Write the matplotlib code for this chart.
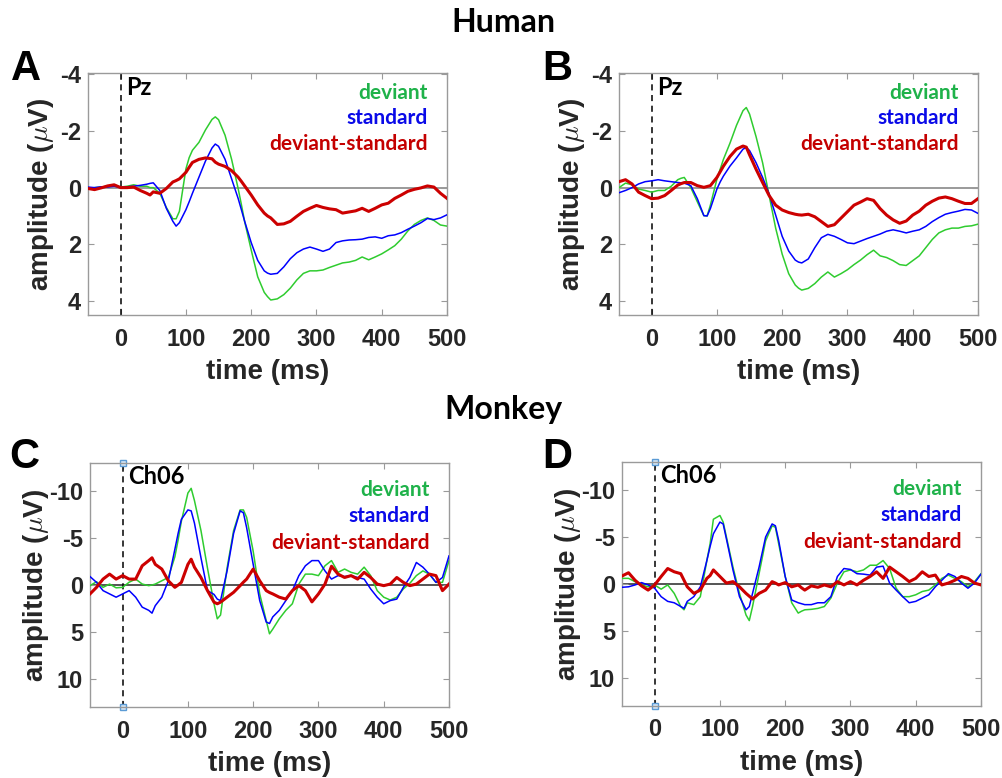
import matplotlib
matplotlib.use("Agg")
import matplotlib.pyplot as plt

plt.rcParams["mathtext.fontset"] = "cm"

# Sample times (ms) shared by every waveform
TIME = [-50, -40, -30, -20, -10, 0, 10, 20, 30, 40, 45, 50, 60, 70, 80, 85, 90,
        100, 105, 110, 120, 130, 140, 145, 150, 160, 170, 180, 185, 190, 200,
        210, 220, 225, 230, 240, 250, 260, 270, 280, 290, 300, 310, 320, 330,
        340, 350, 360, 370, 380, 390, 400, 410, 420, 430, 440, 450, 460, 470,
        480, 490, 500]

# Human, Pz (panel A)
human_a_deviant = [0.03, 0.0, -0.02, -0.05, -0.1, -0.02, -0.05, -0.1, -0.05, -0.05, 0.0, 0.0, 0.2, 0.7, 1.1, 1.1, 0.84,
                   -0.66, -1.06, -1.32, -1.6, -2.04, -2.41, -2.5, -2.4, -1.85, -1.0, 0.03, 0.6, 1.2, 2.2,
                   3.15, 3.7, 3.85, 3.97, 3.93, 3.78, 3.55, 3.26, 3.03, 2.94, 2.94, 2.91, 2.82, 2.74,
                   2.66, 2.63, 2.57, 2.45, 2.55, 2.45, 2.34, 2.2, 2.05, 1.82, 1.53, 1.3, 1.16, 1.07,
                   1.16, 1.32, 1.36]
human_a_standard = [-0.02, 0.0, -0.03, -0.02, -0.05, 0.0, -0.03, -0.05, -0.08, -0.12, -0.15, -0.17, 0.1, 0.73, 1.19, 1.36, 1.24,
                    0.78, 0.5, 0.2, -0.37, -0.94, -1.4, -1.54, -1.46, -1.0, -0.31, 0.38, 0.78, 1.19, 1.94,
                    2.57, 2.94, 3.02, 3.06, 3.03, 2.8, 2.51, 2.3, 2.17, 2.1, 2.17, 2.25, 2.17, 1.94,
                    1.88, 1.85, 1.84, 1.82, 1.76, 1.74, 1.79, 1.7, 1.67, 1.59, 1.47, 1.36, 1.24, 1.09,
                    1.13, 1.07, 0.96]
human_a_diff = [0.03, 0.07, 0.01, -0.06, -0.1, 0.0, 0.0, -0.02, 0.1, 0.2, 0.26, 0.15, 0.2, 0.03, -0.2, -0.25, -0.31,
                -0.54, -0.72, -0.89, -1.0, -1.05, -1.02, -0.9, -0.83, -0.75, -0.6, -0.37, -0.22, -0.06, 0.26,
                0.61, 0.9, 1.0, 1.07, 1.3, 1.28, 1.19, 1.01, 0.84, 0.73, 0.63, 0.7, 0.75, 0.78,
                0.9, 0.86, 0.82, 0.73, 0.84, 0.73, 0.61, 0.55, 0.38, 0.26, 0.13, 0.06, 0.01, -0.06,
                -0.02, 0.2, 0.38]

# Human, Pz (panel B)
human_b_deviant = [0.0, -0.16, -0.1, 0.05, 0.1, 0.16, 0.1, 0.1, -0.05, -0.28, -0.33, -0.36, 0.0, 0.5, 0.99, 1.0, 0.62,
                   -0.3, -0.65, -1.0, -1.57, -2.2, -2.72, -2.83, -2.6, -1.8, -0.88, 0.28, 0.85, 1.43, 2.35,
                   3.04, 3.44, 3.55, 3.62, 3.56, 3.39, 3.16, 2.98, 3.16, 3.04, 2.9, 2.72, 2.56, 2.37,
                   2.21, 2.41, 2.47, 2.58, 2.72, 2.75, 2.58, 2.41, 2.12, 1.83, 1.6, 1.49, 1.43, 1.43,
                   1.37, 1.35, 1.29]
human_b_standard = [0.18, 0.1, 0.0, -0.13, -0.21, -0.24, -0.28, -0.24, -0.21, -0.18, -0.17, -0.16, -0.07, 0.39, 0.99, 1.0, 0.74,
                    0.05, -0.2, -0.41, -0.76, -1.05, -1.36, -1.42, -1.31, -0.88, -0.36, 0.22, 0.6, 0.97, 1.72,
                    2.24, 2.56, 2.63, 2.66, 2.52, 2.12, 1.77, 1.65, 1.72, 1.83, 1.95, 1.98, 1.89, 1.8,
                    1.72, 1.64, 1.54, 1.49, 1.54, 1.6, 1.54, 1.49, 1.37, 1.2, 1.06, 0.94, 0.88, 0.83,
                    0.77, 0.79, 0.91]
human_b_diff = [-0.21, -0.28, -0.13, 0.16, 0.28, 0.39, 0.37, 0.28, 0.1, -0.09, -0.14, -0.18, -0.18, -0.07, -0.01, -0.04, -0.07,
                -0.36, -0.56, -0.76, -1.1, -1.36, -1.47, -1.43, -1.16, -0.65, -0.18, 0.28, 0.45, 0.62, 0.79,
                0.88, 0.94, 0.96, 0.97, 0.94, 1.03, 1.2, 1.37, 1.31, 1.08, 0.85, 0.62, 0.51, 0.39,
                0.45, 0.74, 0.97, 1.14, 1.26, 1.18, 0.97, 0.83, 0.62, 0.48, 0.37, 0.33, 0.39, 0.48,
                0.56, 0.56, 0.39]

# Monkey, Ch06 (panel C)
monkey_c_deviant = [0.07, -0.35, 0.25, -0.1, 0.3, 0.25, -0.3, -0.63, -0.1, 0.07, 0.0, -0.1, -0.45, -0.8, -3.0, -4.8, -6.8,
                    -9.8, -10.3, -9.0, -5.8, -1.8, 2.0, 3.6, 3.2, -1.8, -5.8, -8.0, -8.0, -7.2, -3.6,
                    0.95, 3.8, 5.2, 4.7, 3.6, 2.7, 2.0, -0.1, -1.16, -1.16, -1.0, -2.05, -2.6, -1.35,
                    -1.7, -1.35, -1.16, -1.9, -1.0, 0.6, 1.3, 1.6, 1.3, 0.42, -0.18, -1.0, -1.5, -1.16,
                    -0.28, -0.28, -2.6]
monkey_c_standard = [-0.9, -0.28, 0.6, 0.95, 1.3, 0.95, 0.6, 1.3, 2.36, 2.7, 3.0, 2.2, 1.3, -0.45, -3.8, -5.5, -7.0,
                     -8.0, -7.9, -6.6, -2.9, 0.6, 1.0, 1.5, 1.66, -1.5, -5.5, -7.9, -7.7, -6.1, -2.2,
                     1.66, 3.95, 4.1, 3.4, 2.7, 1.66, 0.6, -1.0, -2.05, -2.6, -2.6, -1.5, -0.63, -1.0,
                     -0.9, -1.0, -0.8, -0.63, 0.42, 1.3, 2.0, 1.66, 1.5, 0.25, -0.8, -2.4, -1.9, -1.16,
                     -0.28, -0.8, -3.1]
monkey_c_diff = [0.95, 0.25, -0.63, -1.16, -0.63, -1.0, -0.63, -0.63, -2.05, -2.6, -2.9, -2.2, -1.7, -0.45, 0.25, 0.0, -0.28,
                 -2.2, -2.75, -1.9, -0.8, 0.6, 1.83, 2.0, 1.83, 1.3, 0.78, 0.07, -0.3, -0.63, -1.7,
                 -0.45, 0.6, 0.8, 0.95, 1.3, 1.5, 0.6, 0.07, 0.6, 1.8, 0.95, -0.1, -2.0, -1.16,
                 -0.8, -1.0, -0.63, -1.35, -0.8, -0.1, 0.07, -0.1, -0.8, -0.28, 0.07, -0.1, -0.63, -1.16,
                 -1.0, 0.6, -0.1]

# Monkey, Ch06 (panel D)
monkey_d_deviant = [-0.6, -0.6, -0.25, 0.1, 0.3, 0.1, 0.55, 0.1, 1.0, 2.4, 2.75, 2.0, 2.2, 1.35, -2.5, -4.3, -6.9,
                    -7.3, -6.6, -5.0, -1.8, 1.0, 3.3, 3.9, 2.4, -1.1, -4.6, -6.2, -6.05, -4.3, -0.8,
                    2.0, 3.1, 2.9, 2.75, 2.7, 2.6, 2.4, 1.5, -0.1, -1.3, -1.5, -1.3, -1.5, -2.0,
                    -2.0, -2.5, -1.65, 0.45, 1.35, 1.35, 1.15, 0.8, 0.65, 0.1, -0.6, -0.95, -0.6, -0.25,
                    0.3, -0.25, -1.1]
monkey_d_standard = [0.35, 0.3, 0.1, -0.15, 0.1, 0.45, 1.35, 1.85, 2.0, 2.4, 2.6, 1.85, 1.35, 0.3, -2.5, -4.0, -5.35,
                     -6.6, -6.4, -4.8, -1.5, 1.35, 2.75, 2.4, 1.0, -1.8, -5.0, -6.4, -6.2, -4.65, -0.8,
                     1.7, 2.0, 2.1, 2.2, 2.2, 2.0, 2.0, 1.35, -0.8, -1.65, -1.55, -1.1, -1.05, -0.95,
                     -1.8, -1.9, -0.1, 0.65, 1.35, 2.0, 1.85, 1.5, 1.15, 0.3, -0.4, -1.1, -0.8, -0.1,
                     0.45, -0.1, -1.05]
monkey_d_diff = [-0.85, -1.2, -0.4, 0.2, 0.65, 0.1, -0.8, -1.65, -1.3, -1.1, -0.4, 0.3, 1.0, 0.65, -0.6, -0.9, -1.5,
                 -0.8, -0.45, -0.1, -0.25, 0.3, 1.0, 1.3, 1.6, 1.0, 0.65, -0.25, -0.1, 0.1, -0.15,
                 0.3, 0.1, 0.4, 0.65, 0.2, 0.35, 0.1, 0.3, -0.25, 0.1, -0.25, 0.1, -0.4, -0.8,
                 -1.3, -0.6, -1.8, -1.3, -0.8, -0.25, -0.6, -1.3, -0.8, -0.95, 0.1, -0.1, -0.4, -0.8,
                 -0.6, -0.1, 0.1]

X_TICKS = [0, 100, 200, 300, 400, 500]
HUMAN_Y_TICKS = [-4, -2, 0, 2, 4]
MONKEY_Y_TICKS = [-10, -5, 0, 5, 10]
LEGEND_LABELS = ["deviant", "standard", "deviant-standard"]

W, H = 1003, 778
GREEN, BLUE, RED = "#2fcc2f", "#0000ff", "#cc0000"
TXT_GREEN, TXT_BLUE, TXT_RED = "#1fb24a", "#0a0ae8", "#c40000"
TICK_FONT = "Liberation Sans"
CAL_FONT = "Lato"
SPINE = "#9a9a9a"

fig = plt.figure(figsize=(W / 100, H / 100), dpi=100)


def rect(left, right, top, bottom):
    return [left / W, 1 - bottom / H, (right - left) / W, (bottom - top) / H]


def panel(box, series, ylim, yticks, site, label_x, zero_color, markers):
    ax = fig.add_axes(rect(*box))
    dev, std, diff = series
    ax.axhline(0, color=zero_color, lw=1.1, zorder=1)
    ax.plot(TIME, dev, color=GREEN, lw=1.1, zorder=3)
    ax.plot(TIME, std, color=BLUE, lw=1.1, zorder=3)
    ax.plot(TIME, diff, color=RED, lw=2.2, zorder=4)
    ax.set_xlim(-50, 500)
    ax.set_ylim(ylim)
    if markers:
        ax.plot([0, 0], ylim, color="black", lw=1.1, ls=(0, (4, 3)), zorder=2,
                marker="s", ms=4, mec="#5b9bd5", mfc="#d6e6f5", mew=1, clip_on=False)
    else:
        ax.plot([0, 0], ylim, color="black", lw=1.1, ls=(0, (4, 3)), zorder=2)
    ax.set_xticks(X_TICKS)
    ax.set_yticks(yticks)
    ax.set_yticklabels([str(v) for v in yticks])
    for s in ax.spines.values():
        s.set_color(SPINE)
        s.set_linewidth(1.0)
    ax.tick_params(direction="in", length=4, width=0.8, color=SPINE,
                   top=True, right=True, labelsize=17, labelcolor="#262626")
    ax.tick_params(axis="x", pad=9)
    ax.tick_params(axis="y", pad=5)
    for lab in ax.get_xticklabels() + ax.get_yticklabels():
        lab.set_fontfamily(TICK_FONT)
        lab.set_fontweight("bold")
    ax.set_xlabel("time (ms)", fontsize=20, fontweight="bold", family=TICK_FONT,
                  color="#262626", va="center")
    ax.xaxis.set_label_coords(0.5, -57 / 242)
    ax.set_ylabel(r"amplitude ($\mu$V)", fontsize=20, fontweight="bold",
                  family=TICK_FONT, color="#262626", va="center")
    ax.yaxis.set_label_coords(label_x, 0.5)
    ax.text(0.105, site[1], site[0], transform=ax.transAxes, fontsize=17,
            fontweight="bold", family=CAL_FONT, color="black", va="center", ha="left")
    for lab, col, yy in zip(LEGEND_LABELS, [TXT_GREEN, TXT_BLUE, TXT_RED], site[2]):
        ax.text(0.947, yy, lab, transform=ax.transAxes, fontsize=15,
                fontweight="bold", family=CAL_FONT, color=col, va="center", ha="right")
    return ax


human_leg = [0.917, 0.812, 0.708]
monkey_leg = [0.889, 0.783, 0.672]

panel((88, 447, 73, 315), (human_a_deviant, human_a_standard, human_a_diff),
      (4.5, -4.05), HUMAN_Y_TICKS, ("Pz", 0.94, human_leg), -0.13, "#7f7f7f", False)
panel((619, 978, 73, 315), (human_b_deviant, human_b_standard, human_b_diff),
      (4.5, -4.05), HUMAN_Y_TICKS, ("Pz", 0.94, human_leg), -0.13, "#7f7f7f", False)
panel((90, 449, 463, 707), (monkey_c_deviant, monkey_c_standard, monkey_c_diff),
      (13, -13), MONKEY_Y_TICKS, ("Ch06", 0.943, monkey_leg), -0.15, "#262626", True)
panel((622, 981, 462, 706), (monkey_d_deviant, monkey_d_standard, monkey_d_diff),
      (13, -13), MONKEY_Y_TICKS, ("Ch06", 0.943, monkey_leg), -0.15, "#262626", True)


def ftext(x, y, s, **kw):
    fig.text(x / W, 1 - y / H, s, **kw)


ftext(503, 22, "Human", fontsize=23, fontweight="bold", family=CAL_FONT, ha="center", va="center")
ftext(503, 410, "Monkey", fontsize=23, fontweight="bold", family=CAL_FONT, ha="center", va="center")
for letter, (x, y) in zip("ABCD", [(26, 69), (557, 69), (24, 457), (557, 457)]):
    ftext(x, y, letter, fontsize=30, fontweight="bold", family=TICK_FONT, ha="center", va="center")

fig.savefig("out.png", dpi=100)
